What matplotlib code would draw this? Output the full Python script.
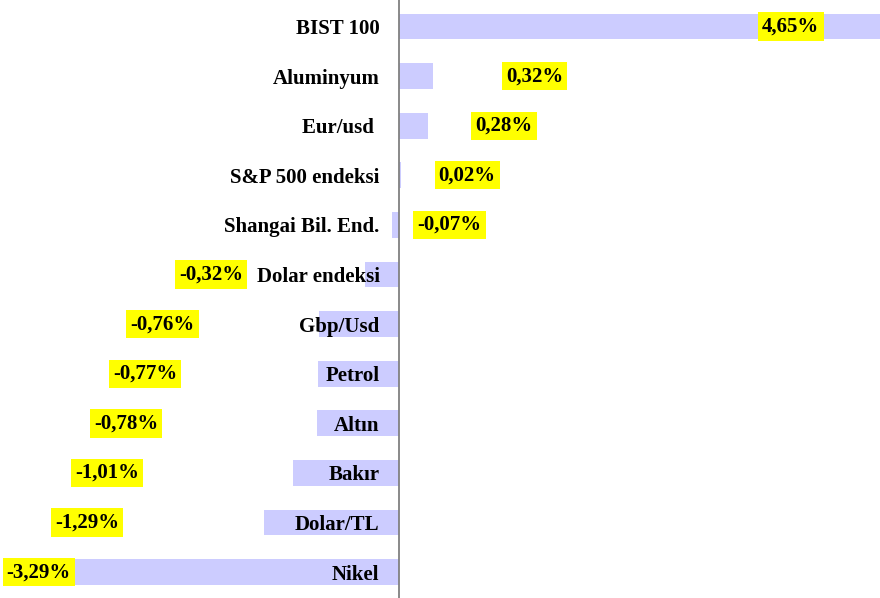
import numpy as np
import matplotlib
matplotlib.use("Agg")
import matplotlib.pyplot as plt

plt.rcParams['font.family'] = ['Liberation Serif', 'DejaVu Serif']
plt.rcParams['font.weight'] = 'bold'

names = ['BIST 100', 'Aluminyum', 'Eur/usd ', 'S&P 500 endeksi', 'Shangai Bil. End.',
         'Dolar endeksi', 'Gbp/Usd', 'Petrol', 'Altın', 'Bakır', 'Dolar/TL', 'Nikel']
changes = [4.65, 0.32, 0.28, 0.02, -0.07, -0.32, -0.76, -0.77, -0.78, -1.01, -1.29, -3.29]
value_labels = ['4,65%', '0,32%', '0,28%', '0,02%', '-0,07%', '-0,32%', '-0,76%',
                '-0,77%', '-0,78%', '-1,01%', '-1,29%', '-3,29%']
# where the yellow value boxes sit (data units), as in the source chart
label_x = [3.73, 1.29, 1.00, 0.65, 0.48, -1.79, -2.25, -2.42, -2.60, -2.78, -2.97, -3.43]

fig = plt.figure(figsize=(8.8, 5.98), dpi=100)
ax = fig.add_axes([0, 0, 1, 1])

ypos = np.arange(len(names))
ax.barh(ypos, changes, height=0.52, color='#ccccff', edgecolor='none')

for y, x, s in zip(ypos, label_x, value_labels):
    ax.text(x, y, s, ha='center', va='center', fontsize=15, fontweight='bold',
            bbox=dict(boxstyle='square,pad=0.2', facecolor='#ffff00', edgecolor='none'))

ax.set_xlim(-3.8, 4.58)
ax.set_ylim(11.52, -0.534)

ax.tick_params(axis='y', length=0, pad=14, labelsize=15)
ax.set_yticks(ypos)
ax.set_yticklabels(names, fontsize=15, fontweight='bold')
ax.set_xticks([])

for side in ['top', 'right', 'bottom']:
    ax.spines[side].set_visible(False)
ax.spines['left'].set_position(('data', 0))
ax.spines['left'].set_color('#808080')
ax.spines['left'].set_linewidth(1.3)

fig.savefig('out.png', dpi=100)
